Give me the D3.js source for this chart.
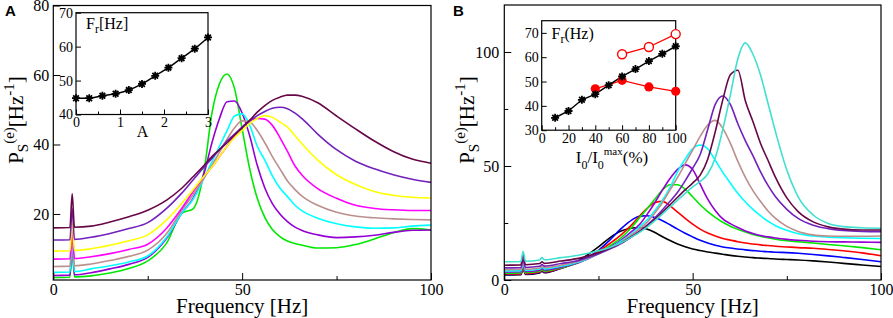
<!DOCTYPE html>
<html>
<head>
<meta charset="utf-8">
<script src="https://cdn.jsdelivr.net/npm/d3@7"></script>
<style>
  body { margin: 0; background: #fff; }
  svg { display: block; font-family: "Liberation Serif", "Times New Roman", serif; }
</style>
</head>
<body>
<div id="chart"></div>
<script>
// ---- panel A : spectra for increasing A (bottom -> top at low f)
const freqA = [0, 4.4, 5, 5.6, 10, 15, 20, 25, 30, 34, 37, 40, 42, 44, 46, 48, 50, 52, 54, 56, 58, 60, 62, 64, 66, 70, 75, 80, 85, 90, 95, 100];
const greenA   = [1.7, 1.8, 10, 1.9, 2.2, 3, 4.3, 6.5, 11.6, 20.2, 21.5, 33, 49, 57.5, 60.3, 56, 44.5, 33, 24.5, 19, 15.5, 13.5, 12.2, 11.5, 11, 10.2, 10.3, 11.2, 12.8, 14.6, 15.8, 15.4];
const violetA  = [2.3, 2.4, 11, 2.5, 3.1, 4.2, 5.5, 7.5, 13, 20.2, 24.5, 32, 40.5, 47.5, 52.3, 52.5, 49, 42.5, 34, 27.5, 23, 20, 17.8, 16.2, 15.2, 14, 13.2, 13.4, 13.9, 14.7, 15.3, 15.4];
const cyanA    = [3.2, 3.3, 12, 3.4, 4.2, 5.1, 6.2, 7.9, 13.3, 20.2, 24.2, 30.5, 35, 39.5, 44, 48.2, 48.8, 45.5, 39.5, 35.5, 31, 27.5, 25, 22.5, 20.8, 18.8, 17.2, 16.3, 15.9, 16, 16.5, 16.8];
const brownA   = [4.9, 5, 13.5, 5.1, 5.6, 6.6, 7.8, 9.6, 14.4, 21, 25.5, 30.5, 34, 37.8, 41.5, 44.8, 46.8, 46.5, 44, 40.5, 36.5, 33, 29.5, 27, 25, 22.5, 20.5, 19.4, 18.9, 18.6, 18.4, 18.3];
const magentaA = [7, 7.1, 15.5, 7.2, 7.7, 8.6, 9.8, 11.3, 15.9, 21.6, 26.4, 31, 33.5, 36.5, 39.5, 42.5, 45, 46.8, 47.5, 47.3, 45.5, 42, 38, 33.8, 31, 27.3, 24.5, 22.5, 21.6, 21.2, 21, 21];
const yellowA  = [9.3, 9.4, 18, 9.5, 10, 11, 12.3, 14, 18.3, 23, 27, 31, 33.5, 36.5, 39.5, 42, 44, 46, 47.5, 48.3, 47.8, 46.5, 45, 42.5, 40, 35.5, 31.3, 28.5, 26.5, 25.4, 24.8, 24.6];
const indigoA  = [12.5, 12.6, 21.5, 12.7, 13.3, 14.4, 15.8, 17.5, 21.6, 26, 29.8, 33.6, 36, 38.5, 41, 43, 45, 46.8, 48.3, 49.5, 50.4, 50.7, 50.3, 49, 47.3, 43, 38.5, 35.2, 33, 31.3, 30, 29.1];
const maroonA  = [16, 16.1, 25.8, 16.2, 16.5, 17.7, 19.2, 21.1, 24, 27.4, 30.7, 34.1, 36.5, 38.5, 40.5, 42.8, 44.8, 47, 49.3, 51.2, 52.7, 53.6, 54.2, 54.2, 53.8, 52, 48.2, 44.5, 41, 38, 35.8, 34.6];

// ---- panel B : spectra for increasing I0
const freqB = [0, 4.4, 5, 5.6, 9.4, 10, 10.6, 15, 20, 25, 28, 31, 34, 36, 38, 40, 42, 44, 46, 48, 50, 52, 54, 56, 58, 60, 62, 64, 66, 68, 70, 72, 75, 78, 82, 86, 90, 95, 100];
const blackB     = [2.2, 2.3, 5, 2.4, 3.1, 3.9, 3.2, 5.2, 8.8, 14.5, 18.5, 21.5, 22.8, 23, 22.3, 20.8, 19, 17.3, 15.8, 14.6, 13.6, 12.9, 12.3, 11.8, 11.3, 10.8, 10.4, 10.1, 9.8, 9.6, 9.4, 9.2, 9, 8.8, 8.4, 7.9, 7.3, 6.6, 5.9];
const blueB      = [2.4, 2.5, 5.2, 2.6, 3.3, 4.1, 3.4, 5, 8.2, 13, 17.5, 22.5, 26.5, 28, 28.2, 27.4, 26, 24.2, 22.3, 20.5, 18.9, 17.4, 16.2, 15.2, 14.5, 14, 13.6, 13.2, 12.9, 12.6, 12.4, 12.2, 12, 11.7, 11.2, 10.6, 9.9, 9, 8];
const redB       = [2.6, 2.7, 5.5, 2.8, 3.5, 4.3, 3.6, 5.2, 8, 12.5, 16, 19.8, 24.5, 28.2, 31.5, 34, 34.5, 32.5, 29.8, 27, 24.5, 22.3, 20.6, 19.3, 18.2, 17.5, 16.8, 16.2, 15.8, 15.4, 15.1, 14.8, 14.5, 14.2, 13.9, 13.4, 12.8, 11.9, 10.6];
const greenB     = [3, 3.1, 6, 3.2, 3.8, 4.6, 3.9, 5.3, 7.8, 12, 15, 18.5, 23.5, 27.5, 31.5, 35.5, 39.5, 41.8, 41.8, 39.8, 36.5, 33, 30, 27.5, 25.3, 23.6, 22.2, 21, 20, 19.2, 18.5, 17.9, 17.2, 16.8, 16.2, 15.6, 15, 14.2, 13.3];
const violetB    = [3.5, 3.6, 6.5, 3.7, 4.3, 5.1, 4.4, 5.6, 7.8, 11.5, 14.3, 17.5, 21.5, 24.5, 29, 34, 39.5, 44.5, 48.5, 50.5, 48.5, 42, 35.5, 30.5, 26.8, 24.7, 23, 21.5, 20.4, 19.5, 18.9, 18.4, 17.8, 17.4, 17, 16.8, 16.7, 16.6, 16.5];
const cyanB      = [4, 4.1, 7.5, 4.2, 4.8, 5.6, 4.9, 6, 8, 11.5, 14, 17, 20.5, 23.5, 26.5, 30.5, 35, 40.5, 47.5, 53, 57.5, 59.2, 57.5, 52.5, 47.2, 42.5, 38, 34.2, 31, 28.2, 25.8, 23.8, 21.8, 20.3, 19.3, 18.8, 18.5, 18.3, 18.2];
const brownB     = [4.5, 4.6, 8, 4.7, 5.3, 6.1, 5.4, 6.5, 8.3, 11.5, 13.8, 16.5, 20, 22.5, 25.5, 29.5, 34, 39.5, 45, 51, 57, 63, 68, 70, 66.5, 60, 52, 45, 39.2, 34.5, 30.3, 27, 23.5, 21.3, 19.8, 19.3, 19.2, 19.2, 19.3];
const indigoB    = [5.3, 5.4, 9, 5.5, 6, 6.8, 6.1, 7.2, 8.7, 11.5, 13.6, 16, 19.2, 21.5, 24.2, 27.3, 30.8, 34.5, 38.5, 43.5, 49, 55, 66, 77, 80.7, 77, 68.5, 61, 54.5, 47.5, 41.5, 36.5, 31, 27, 24, 22.5, 21.7, 21.3, 21.2];
const maroonB    = [6.5, 6.6, 11, 6.7, 7.2, 8, 7.3, 8.3, 9.6, 12, 14, 16.3, 19.2, 21.3, 23.8, 26.7, 29.8, 33, 36.3, 39.5, 42.5, 46, 53, 65, 79, 90, 92, 78.5, 69.5, 60, 52.5, 45, 36, 30, 25.5, 23.3, 22.3, 21.9, 21.9];
const turquoiseB = [8, 8.1, 12.5, 8.2, 8.8, 9.8, 8.9, 9.8, 11, 12.8, 14.3, 16.3, 19, 21, 23.3, 26, 29, 32, 35, 38, 40.8, 43.2, 46.5, 53.5, 66, 81, 97, 104, 99, 90, 77.5, 65, 48.2, 36.5, 28.5, 24.8, 23.4, 22.9, 22.7];

// ---- insets
const insetA_x = [0, 0.3, 0.6, 0.9, 1.2, 1.5, 1.8, 2.1, 2.4, 2.7, 3.0];
const insetA_fr = [44.8, 44.8, 45.5, 46.1, 47.2, 49.0, 51.4, 53.8, 56.6, 59.4, 62.7];
const insetB_x = [10, 20, 30, 40, 50, 60, 70, 80, 90, 100];
const insetB_fr = [35.1, 37.9, 42.5, 44.8, 48.5, 52.1, 55.1, 58.4, 61.4, 64.5];
const openB_x = [60, 80, 100];
const openB_fr = [61.2, 64.2, 69.5];
const filledB_x = [40, 60, 80, 100];
const filledB_fr = [47, 50.5, 47.8, 46];

const seriesA = [
  {c: "#00e800", v: greenA}, {c: "#9400d3", v: violetA}, {c: "#00ffff", v: cyanA},
  {c: "#bc8f8f", v: brownA}, {c: "#ff00ff", v: magentaA}, {c: "#ffff00", v: yellowA},
  {c: "#7221bc", v: indigoA}, {c: "#670748", v: maroonA}
];
const seriesB = [
  {c: "#000000", v: blackB}, {c: "#0000ff", v: blueB}, {c: "#ff0000", v: redB},
  {c: "#00e800", v: greenB}, {c: "#9400d3", v: violetB}, {c: "#00ffff", v: cyanB},
  {c: "#bc8f8f", v: brownB}, {c: "#7221bc", v: indigoB}, {c: "#670748", v: maroonB},
  {c: "#40e0d0", v: turquoiseB}
];

const svg = d3.select("#chart").append("svg")
  .attr("width", 893)
  .attr("height", 318);

// 8-armed asterisk marker
const star8 = {
  draw(ctx, size) {
    const r = Math.sqrt(size) / 2;
    for (let k = 0; k < 4; k++) {
      const a = k * Math.PI / 4;
      ctx.moveTo(r * Math.cos(a), r * Math.sin(a));
      ctx.lineTo(-r * Math.cos(a), -r * Math.sin(a));
    }
  }
};

function styleAxis(g, size) {
  g.select(".domain").remove();
  g.selectAll("text")
    .attr("font-family", "Liberation Serif, Times New Roman, serif")
    .attr("font-size", size)
    .attr("fill", "#000");
  g.selectAll("line").attr("stroke", "#000");
}

function axes(x, y, o) {
  const [x0, x1] = x.range();
  const [y0, y1] = y.range();
  const g = svg.append("g");

  g.append("g").attr("transform", `translate(0,${y0})`)
    .call(d3.axisBottom(x).tickValues(o.xMajor).tickSize(-o.major).tickPadding(o.xPad).tickFormat(o.xFmt || d3.format("d")))
    .call(s => styleAxis(s, o.font));
  if (o.xMinor) {
    g.append("g").attr("transform", `translate(0,${y0})`)
      .call(d3.axisBottom(x).tickValues(o.xMinor).tickSize(-o.minor).tickFormat(""))
      .call(s => styleAxis(s, o.font));
  }
  g.append("g").attr("transform", `translate(${x0},0)`)
    .call(d3.axisLeft(y).tickValues(o.yMajor).tickSize(-o.major).tickPadding(o.yPad).tickFormat(d3.format("d")))
    .call(s => styleAxis(s, o.font));
  if (o.yMinor) {
    g.append("g").attr("transform", `translate(${x0},0)`)
      .call(d3.axisLeft(y).tickValues(o.yMinor).tickSize(-o.minor).tickFormat(""))
      .call(s => styleAxis(s, o.font));
  }
  g.append("rect")
    .attr("x", x0).attr("y", y1)
    .attr("width", x1 - x0).attr("height", y0 - y1)
    .attr("fill", "none").attr("stroke", "#000").attr("stroke-width", 1.2);
}

function yLabel(x, y) {
  const t = svg.append("text")
    .attr("transform", `translate(${x},${y}) rotate(-90)`)
    .attr("text-anchor", "middle")
    .attr("font-size", 21);
  t.append("tspan").text("P");
  t.append("tspan").attr("font-size", 15).attr("dy", 5).text("S");
  t.append("tspan").attr("font-size", 15).attr("dy", -14).text("(e)");
  t.append("tspan").attr("dy", 9).text("[Hz");
  t.append("tspan").attr("font-size", 15).attr("dy", -9).text("-1");
  t.append("tspan").attr("dy", 9).text("]");
}

function mainPanel(x, y, freq, series, o) {
  const line = d3.line()
    .x(d => x(d[0]))
    .y(d => y(d[1]))
    .curve(d3.curveMonotoneX);

  svg.append("g").selectAll("path")
    .data(series)
    .join("path")
    .attr("d", s => line(freq.map((f, i) => [f, s.v[i]])))
    .attr("fill", "none")
    .attr("stroke", s => s.c)
    .attr("stroke-width", 1.6);

  axes(x, y, o);

  const [x0, x1] = x.range();
  svg.append("text")
    .attr("x", (x0 + x1) / 2).attr("y", 313)
    .attr("text-anchor", "middle")
    .attr("font-size", 21)
    .text("Frequency [Hz]");
  yLabel(x0 - 30, 120);

  svg.append("text")
    .attr("x", o.letterX).attr("y", 16)
    .attr("font-family", "Liberation Sans, Arial, sans-serif")
    .attr("font-weight", "bold")
    .attr("font-size", 15)
    .text(o.letter);
}

// ---------------- panel A
const xA = d3.scaleLinear().domain([0, 100]).range([53.3, 431]);
const yA = d3.scaleLinear().domain([1, 80]).range([280, 5.5]);
mainPanel(xA, yA, freqA, seriesA, {
  xMajor: [0, 50, 100], xMinor: [25, 75], yMajor: [20, 40, 60, 80],
  major: 7, minor: 4, xPad: 4, yPad: 4, font: 16, letter: "A", letterX: 5
});

// ---------------- panel B
const xB = d3.scaleLinear().domain([0, 100]).range([504.3, 881]);
const yB = d3.scaleLinear().domain([0, 120.6]).range([280, 5]);
mainPanel(xB, yB, freqB, seriesB, {
  xMajor: [0, 50, 100], xMinor: [25, 75], yMajor: [0, 50, 100], yMinor: [25, 75],
  major: 7, minor: 4, xPad: 4, yPad: 5, font: 16, letter: "B", letterX: 453
});

// ---------------- inset A
const xIA = d3.scaleLinear().domain([0, 3]).range([76, 208]);
const yIA = d3.scaleLinear().domain([40, 70]).range([114.5, 12.7]);
svg.append("rect")
  .attr("x", 76).attr("y", 12.7).attr("width", 132).attr("height", 101.8)
  .attr("fill", "#fff");
axes(xIA, yIA, {
  xMajor: [0, 1, 2, 3], xMinor: [0.5, 1.5, 2.5], yMajor: [40, 50, 60, 70],
  major: 5, minor: 3, xPad: 3, yPad: 3, font: 14
});
const lineIA = d3.line().x(d => xIA(d[0])).y(d => yIA(d[1])).curve(d3.curveMonotoneX);
const ptsIA = insetA_x.map((a, i) => [a, insetA_fr[i]]);
svg.append("path").attr("d", lineIA(ptsIA))
  .attr("fill", "none").attr("stroke", "#000").attr("stroke-width", 1.5);
svg.append("g").selectAll("path").data(ptsIA).join("path")
  .attr("transform", d => `translate(${xIA(d[0])},${yIA(d[1])})`)
  .attr("d", d3.symbol(star8, 64))
  .attr("stroke", "#000").attr("stroke-width", 1.8);
{
  const t = svg.append("text").attr("x", 86).attr("y", 28.5).attr("font-size", 16);
  t.append("tspan").text("F");
  t.append("tspan").attr("font-size", 12).attr("dy", 4).text("r");
  t.append("tspan").attr("dy", -4).text("[Hz]");
}
svg.append("text").attr("x", 142.5).attr("y", 136.5)
  .attr("text-anchor", "middle").attr("font-size", 16).text("A");

// ---------------- inset B
const xIB = d3.scaleLinear().domain([0, 100]).range([541.7, 675.7]);
const yIB = d3.scaleLinear().domain([30, 75]).range([130.2, 20.7]);
svg.append("rect")
  .attr("x", 541.7).attr("y", 20.7).attr("width", 134).attr("height", 109.5)
  .attr("fill", "#fff");
axes(xIB, yIB, {
  xMajor: [0, 20, 40, 60, 80, 100], xMinor: [10, 30, 50, 70, 90], yMajor: [30, 40, 50, 60, 70],
  major: 5, minor: 3, xPad: 3, yPad: 3, font: 14
});
const lineIB = d3.line().x(d => xIB(d[0])).y(d => yIB(d[1]));
const ptsB = insetB_x.map((a, i) => [a, insetB_fr[i]]);
const ptsOpen = openB_x.map((a, i) => [a, openB_fr[i]]);
const ptsFill = filledB_x.map((a, i) => [a, filledB_fr[i]]);
svg.append("path").attr("d", lineIB(ptsOpen))
  .attr("fill", "none").attr("stroke", "#ff0000").attr("stroke-width", 1.3);
svg.append("path").attr("d", lineIB(ptsFill))
  .attr("fill", "none").attr("stroke", "#ff0000").attr("stroke-width", 1.3);
svg.append("path").attr("d", lineIB(ptsB))
  .attr("fill", "none").attr("stroke", "#000").attr("stroke-width", 1.5);
svg.append("g").selectAll("circle").data(ptsOpen).join("circle")
  .attr("cx", d => xIB(d[0])).attr("cy", d => yIB(d[1])).attr("r", 4.5)
  .attr("fill", "#fff").attr("stroke", "#ff0000").attr("stroke-width", 1.4);
svg.append("g").selectAll("circle").data(ptsFill).join("circle")
  .attr("cx", d => xIB(d[0])).attr("cy", d => yIB(d[1])).attr("r", 4.6)
  .attr("fill", "#ff0000");
svg.append("g").selectAll("path").data(ptsB).join("path")
  .attr("transform", d => `translate(${xIB(d[0])},${yIB(d[1])})`)
  .attr("d", d3.symbol(star8, 64))
  .attr("stroke", "#000").attr("stroke-width", 1.8);
{
  const t = svg.append("text").attr("x", 551.5).attr("y", 39).attr("font-size", 16);
  t.append("tspan").text("F");
  t.append("tspan").attr("font-size", 12).attr("dy", 4).text("r");
  t.append("tspan").attr("dy", -4).text("(Hz)");
}
{
  const t = svg.append("text").attr("x", 612).attr("y", 163)
    .attr("text-anchor", "middle").attr("font-size", 17);
  t.append("tspan").text("I");
  t.append("tspan").attr("font-size", 12).attr("dy", 6).text("0");
  t.append("tspan").attr("dy", -6).text("/I");
  t.append("tspan").attr("font-size", 12).attr("dy", 6).text("0");
  t.append("tspan").attr("font-size", 11).attr("dy", -14).text("max");
  t.append("tspan").attr("dy", 8).text("(%)");
}
</script>
</body>
</html>
